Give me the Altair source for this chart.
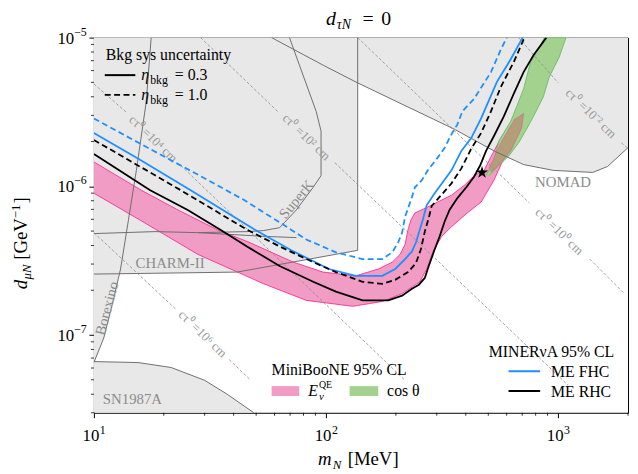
import altair as alt
import pandas as pd

# ---------------- values ----------------
# masses m_N in MeV, couplings d_muN in GeV^-1

# grey excluded regions (boundaries)
charm_low_m = [10, 20.9, 41.4, 136.9]
charm_low_d = [2.57e-7, 2.61e-7, 2.65e-7, 3.71e-7]
charm_up_m = [28.0, 55.5, 74.5]
charm_up_d = [4.88e-7, 4.60e-7, 4.52e-7]
nomad_m = [58.3, 97.1, 136.9, 219, 357.5, 529, 710, 952, 1409, 1633, 2000]
nomad_d = [1e-5, 6.53e-6, 4.96e-6, 3.49e-6, 2.42e-6, 1.73e-6, 1.40e-6, 1.28e-6, 1.24e-6, 1.36e-6, 1.82e-6]
borex_m = [17.65, 16.81, 15.24, 14.09, 13.03, 12.17, 11.03, 10]
borex_d = [1e-5, 3.71e-6, 1.28e-6, 5.95e-7, 2.78e-7, 1.76e-7, 9.55e-8, 6.53e-8]
sn_m = [10, 15.5, 21.5, 30.0, 37.5, 48.9]
sn_d = [6.63e-8, 6.53e-8, 6.05e-8, 4.96e-8, 4.0e-8, 3.0e-8]
superk_m = [69.6, 76.8, 90.7, 95.2, 95.2, 88.05, 74.5, 63.1, 53.9, 45.7, 28.0, 18.35, 10]
superk_d = [1e-5, 6.53e-6, 3.19e-6, 2.35e-6, 1.18e-6, 9.85e-7, 6.94e-7, 5.27e-7, 5.04e-7, 4.96e-7, 4.88e-7, 4.96e-7, 4.81e-7]
vert_m = [136.9, 136.9]
vert_d = [3.71e-7, 1e-5]

grey_label_text = ["SuperK", "CHARM-II", "Borexino", "SN1987A", "NOMAD"]
grey_label_m = [74.5, 21.3, 11.36, 14.66, 1050]
grey_label_d = [8.2e-7, 3.04e-7, 1.51e-7, 3.71e-8, 1.063e-6]
grey_label_angle = [310, 0, 285, 0, 0]

# constant c*tau0 lines (two pieces each, gap for the label)
ct_seg_m = [[10, 13.82], [23.69, 219], [28.82, 61.9], [109.2, 1103], [136.9, 752.5],
            [1368, 1928], [675.8, 1000], [1872, 2000], [10, 22.55], [38.3, 47.0]]
ct_seg_d = [[4.88e-6, 3.14e-6], [1.38e-6, 4.96e-8], [1e-5, 3.19e-6], [1.44e-6, 4.60e-8],
            [1e-5, 7.72e-7], [3.24e-7, 1.90e-7], [1e-5, 4.96e-6], [1.96e-6, 1.8e-6],
            [4.88e-7, 1.49e-7], [6.83e-8, 5.03e-8]]
ct_text = ["cτ⁰ =10⁶ cm", "cτ⁰ =10⁴ cm", "cτ⁰ =10² cm", "cτ⁰ =10⁰ cm", "cτ⁰ =10⁻² cm"]
ct_lab_m = [29.4, 18.0, 82.2, 1010, 1382]
ct_lab_d = [1.015e-7, 2.08e-6, 2.14e-6, 4.96e-7, 3.09e-6]

# MiniBooNE E_nu^QE band (closed outline)
pink_m = [10, 16.0, 23.0, 34.0, 45.7, 72.4, 97.1, 134.2, 168.1, 192.8, 208.5, 219, 225.5, 232.3,
          241.5, 274.3, 347.1, 394.2, 434.9, 479.6, 503.6, 566.6, 643.4, 709.8, 696, 624.7,
          572.2, 529, 465.7, 406, 347.1, 314.7, 288.2, 271.6, 253.7, 212.7, 174.8, 130.3,
          82.2, 53.9, 28.0, 16.0, 10]
pink_d = [1.46e-6, 9.41e-7, 6.94e-7, 5.11e-7, 4.26e-7, 3.09e-7, 2.65e-7, 2.50e-7, 2.78e-7,
          3.09e-7, 3.49e-7, 4.07e-7, 5.11e-7, 5.95e-7, 6.62e-7, 7.26e-7, 8.72e-7, 1.015e-6,
          1.18e-6, 1.28e-6, 1.49e-6, 2.11e-6, 2.86e-6, 3.09e-6, 2.46e-6, 1.73e-6, 1.44e-6,
          1.10e-6, 7.83e-7, 6.62e-7, 5.35e-7, 4.60e-7, 3.60e-7, 2.78e-7, 2.28e-7, 1.90e-7,
          1.68e-7, 1.56e-7, 1.71e-7, 2.21e-7, 3.49e-7, 5.86e-7, 8.99e-7]
# MiniBooNE cos(theta) band (closed outline)
green_m = [489.2, 529, 555.4, 624.7, 662.6, 709.8, 760.2, 838.5, 871.9, 1081.5, 1010, 915.6,
           863.5, 782.9, 730.9, 675.8, 612.7, 555.4, 503.6]
green_d = [1.18e-6, 1.49e-6, 2.02e-6, 2.74e-6, 3.44e-6, 4.52e-6, 6.83e-6, 8.85e-6, 1e-5, 1e-5,
           7.37e-6, 5.43e-6, 4.00e-6, 2.95e-6, 2.42e-6, 1.96e-6, 1.60e-6, 1.38e-6, 1.18e-6]
# part of the E_nu^QE band lying inside the cos(theta) band
overlap_m = [503.6, 572.2, 649.8, 709.8, 696, 624.7, 566.6, 513.5]
overlap_d = [1.32e-6, 2.02e-6, 2.82e-6, 3.09e-6, 2.46e-6, 1.73e-6, 1.44e-6, 1.24e-6]

# MINERvA 95% CL curves
fhc10_m = [10, 17.14, 28.0, 44.4, 67.6, 82.2, 110.3, 143.7, 174.8, 192.8, 204.5, 212.7, 219,
           234.5, 241.5, 258.7, 274.3, 302.7, 324.1, 347.1, 368.1, 386.6, 434.9, 513.5, 566.6, 600.8]
fhc10_d = [2.86e-6, 1.81e-6, 1.20e-6, 8.08e-7, 5.35e-7, 4.39e-7, 3.60e-7, 3.24e-7, 3.24e-7,
           3.60e-7, 4.19e-7, 4.88e-7, 6.23e-7, 8.46e-7, 9.85e-7, 1.10e-6, 1.28e-6, 1.56e-6,
           1.81e-6, 2.24e-6, 2.61e-6, 3.19e-6, 3.89e-6, 5.86e-6, 8.33e-6, 1e-5]
fhc03_m = [10, 15.54, 26.12, 49.4, 72.4, 103.0, 134.2, 174.8, 198.6, 219, 234.5, 243.9, 261.2,
           271.6, 293.9, 347.1, 382.8, 422.2, 465.7, 544.8, 624.7, 703]
fhc03_d = [2.28e-6, 1.53e-6, 9.41e-7, 5.11e-7, 3.65e-7, 2.78e-7, 2.50e-7, 2.50e-7, 2.78e-7,
           3.24e-7, 3.65e-7, 4.19e-7, 5.95e-7, 7.48e-7, 8.99e-7, 1.28e-6, 1.73e-6, 2.11e-6,
           2.86e-6, 5.04e-6, 7.15e-6, 1e-5]
rhc10_m = [10, 23.69, 45.66, 63.1, 88.05, 110.3, 143.7, 174.8, 198.6, 225.5, 243.9, 256.2, 266.4,
           277.1, 285.3, 302.7, 347.1, 382.8, 422.2, 465.7, 513.5, 566.6, 643.4, 709.8, 723.8]
rhc10_d = [2.05e-6, 9.41e-7, 5.11e-7, 3.94e-7, 3.09e-7, 2.65e-7, 2.28e-7, 2.21e-7, 2.35e-7,
           2.65e-7, 3.04e-7, 3.77e-7, 4.96e-7, 6.14e-7, 7.37e-7, 8.20e-7, 1.047e-6, 1.32e-6,
           1.79e-6, 2.28e-6, 3.19e-6, 4.67e-6, 6.83e-6, 9.70e-6, 1e-5]
rhc03_m = [10, 17.48, 25.37, 35.05, 45.66, 63.1, 88.05, 110.3, 143.7, 185.4, 212.7, 234.5, 251.2,
           266.4, 277.1, 293.9, 308.5, 324.1, 340.4, 368.1, 402.1, 434.9, 461.1, 489.2, 529,
           583.4, 643.4, 709.8, 782.9, 889.2]
rhc03_d = [1.65e-6, 9.41e-7, 6.94e-7, 5.11e-7, 3.94e-7, 2.91e-7, 2.28e-7, 1.96e-7, 1.71e-7,
           1.71e-7, 1.84e-7, 2.05e-7, 2.18e-7, 2.42e-7, 2.91e-7, 3.77e-7, 4.60e-7, 5.78e-7,
           6.94e-7, 8.33e-7, 9.85e-7, 1.165e-6, 1.38e-6, 1.73e-6, 2.18e-6, 2.95e-6, 4.19e-6,
           5.86e-6, 7.60e-6, 1e-5]
star_m = [470]
star_d = [1.24e-6]

# axis ticks and labels
major_x = [10, 100, 1000]
major_x_exp = ["1", "2", "3"]
major_y = [1e-7, 1e-6, 1e-5]
major_y_exp = ["−7", "−6", "−5"]
minor_x = [20, 30, 40, 50, 60, 70, 80, 90, 200, 300, 400, 500, 600, 700, 800, 900, 2000]
minor_y = [3e-8, 4e-8, 5e-8, 6e-8, 7e-8, 8e-8, 9e-8,
           2e-7, 3e-7, 4e-7, 5e-7, 6e-7, 7e-7, 8e-7, 9e-7,
           2e-6, 3e-6, 4e-6, 5e-6, 6e-6, 7e-6, 8e-6, 9e-6]

# ---------------- styling ----------------
FONT = "Liberation Serif"
GREYFILL = "#e8e8e8"
GREYLINE = "#6e6e6e"
PINK = "#f09cc4"
PINK_EDGE = "#ff1a8c"
GREEN = "#a3d28f"
GREEN_EDGE = "#5cb85c"
OVERLAP = "#b49e78"
BLUE = "#1e8fff"
W, H = 541, 380

xs = alt.Scale(type="log", domain=[10, 2000], nice=False)
ys = alt.Scale(type="log", domain=[3e-8, 1e-5], nice=False)
ONE = pd.DataFrame({"a": [0]})

XAXIS = alt.Axis(values=major_x, title=None, grid=False, domain=False, labels=False,
                 tickColor="black", tickSize=5, tickWidth=1)
YAXIS = alt.Axis(values=major_y, title=None, grid=False, domain=False, labels=False,
                 tickColor="black", tickSize=5, tickWidth=1)


def X(field="m"):
    return alt.X(f"{field}:Q", scale=xs, axis=XAXIS)


def Y(field="d"):
    return alt.Y(f"{field}:Q", scale=ys, axis=YAXIS)


def path_df(m, d, seg="a"):
    return pd.DataFrame({"m": m, "d": d, "i": list(range(len(m))), "seg": seg})


def xy(chart):
    return chart.encode(x=X(), y=Y(), order=alt.Order("i:Q"), detail="seg:N")


def polygon(m, d, fill, stroke=None, sw=0.0):
    return xy(alt.Chart(path_df(m, d)).mark_line(
        fill=fill, stroke=stroke if stroke else fill, strokeWidth=sw, clip=True))


def curve(m, d, color, width=1.8, dash=None):
    props = dict(color=color, strokeWidth=width, clip=True)
    if dash:
        props["strokeDash"] = dash
    return xy(alt.Chart(path_df(m, d)).mark_line(**props))


def ptext(s, x, y, size=16, style="normal", color="black", align="left", angle=0):
    props = dict(text=s, font=FONT, fontSize=size, fontStyle=style, color=color,
                 align=align, baseline="alphabetic")
    if angle:
        props["angle"] = angle
    return alt.Chart(ONE).mark_text(**props).encode(x=alt.value(x), y=alt.value(y))


def pline(x1, x2, y, color, dash=None, width=2):
    props = dict(color=color, strokeWidth=width)
    if dash:
        props["strokeDash"] = dash
    return alt.Chart(ONE).mark_rule(**props).encode(
        x=alt.value(x1), x2=alt.value(x2), y=alt.value(y))


def prect(x1, x2, y1, y2, color):
    return alt.Chart(ONE).mark_rect(color=color).encode(
        x=alt.value(x1), x2=alt.value(x2), y=alt.value(y1), y2=alt.value(y2))


layers = []

# grey filled regions
top_m = charm_low_m + nomad_m[2:] + [2000, 10]
top_d = charm_low_d + nomad_d[2:] + [1e-5, 1e-5]
layers.append(polygon(top_m, top_d, GREYFILL))
layers.append(polygon(borex_m + [10], borex_d + [1e-5], GREYFILL))
layers.append(polygon(sn_m + [10], sn_d + [3e-8], GREYFILL))

# MiniBooNE bands
layers.append(polygon(pink_m, pink_d, PINK, PINK_EDGE, 0.8))
layers.append(polygon(green_m, green_d, GREEN, GREEN_EDGE, 0.8))
layers.append(polygon(overlap_m, overlap_d, OVERLAP, "#d0609a", 0.6))

# grey boundary lines
grey_paths = [(charm_low_m, charm_low_d), (vert_m, vert_d), (nomad_m, nomad_d),
              (borex_m, borex_d), (sn_m, sn_d), (superk_m, superk_d), (charm_up_m, charm_up_d)]
gdf = pd.concat([path_df(m, d, f"g{k}") for k, (m, d) in enumerate(grey_paths)])
layers.append(xy(alt.Chart(gdf).mark_line(color=GREYLINE, strokeWidth=1, clip=True)))

# c tau lines and labels
cdf = pd.concat([path_df(m, d, f"c{k}") for k, (m, d) in enumerate(zip(ct_seg_m, ct_seg_d))])
layers.append(xy(alt.Chart(cdf).mark_line(color="#8c8c8c", strokeWidth=0.8,
                                          strokeDash=[3, 2], clip=True)))
layers.append(alt.Chart(pd.DataFrame({"m": ct_lab_m, "d": ct_lab_d, "t": ct_text})).mark_text(
    font=FONT, fontSize=13, color="#999999", angle=44).encode(x=X(), y=Y(), text="t:N"))

# grey region labels
for t, m, d, a in zip(grey_label_text, grey_label_m, grey_label_d, grey_label_angle):
    props = dict(text=t, font=FONT, fontSize=15, color="#8c8c8c")
    if a:
        props["angle"] = a
    layers.append(alt.Chart(pd.DataFrame({"m": [m], "d": [d]})).mark_text(**props).encode(
        x=X(), y=Y()))

# MINERvA curves
layers.append(curve(fhc10_m, fhc10_d, BLUE, dash=[6, 3.5]))
layers.append(curve(fhc03_m, fhc03_d, BLUE))
layers.append(curve(rhc10_m, rhc10_d, "black", dash=[6, 3.5]))
layers.append(curve(rhc03_m, rhc03_d, "black"))

STAR = ("M0,-1L0.2245,-0.309L0.951,-0.309L0.363,0.118L0.588,0.809L0,0.382"
        "L-0.588,0.809L-0.363,0.118L-0.951,-0.309L-0.2245,-0.309Z")
layers.append(alt.Chart(pd.DataFrame({"m": star_m, "d": star_d})).mark_point(
    shape=STAR, filled=True, color="black", size=170, opacity=1).encode(x=X(), y=Y()))

# minor ticks
layers.append(alt.Chart(pd.DataFrame({"v": minor_x})).mark_rule(color="black", strokeWidth=0.8).encode(
    x=X("v"), y=alt.value(H), y2=alt.value(H + 3)))
layers.append(alt.Chart(pd.DataFrame({"v": minor_y})).mark_rule(color="black", strokeWidth=0.8).encode(
    y=Y("v"), x=alt.value(0), x2=alt.value(-3)))

# tick labels of the form 10^k
xl = pd.DataFrame({"m": major_x, "e": major_x_exp, "b": ["10"] * 3})
layers.append(alt.Chart(xl).mark_text(font=FONT, fontSize=17, color="black", align="center",
                                      baseline="alphabetic", dx=-3).encode(
    x=X(), y=alt.value(H + 29), text="b:N"))
layers.append(alt.Chart(xl).mark_text(font=FONT, fontSize=12, color="black", align="left",
                                      baseline="alphabetic", dx=6).encode(
    x=X(), y=alt.value(H + 21), text="e:N"))
yl = pd.DataFrame({"d": major_y, "e": major_y_exp, "b": ["10"] * 3})
layers.append(alt.Chart(yl).mark_text(font=FONT, fontSize=17, color="black", align="right",
                                      baseline="alphabetic", dy=6).encode(
    y=Y(), x=alt.value(-20), text="b:N"))
layers.append(alt.Chart(yl).mark_text(font=FONT, fontSize=12, color="black", align="left",
                                      baseline="alphabetic", dy=-2).encode(
    y=Y(), x=alt.value(-20), text="e:N"))

# legend: background systematics
layers += [
    ptext("Bkg sys uncertainty", 12, 23),
    pline(11, 42, 38, "black"),
    ptext("η", 48, 43, style="italic"),
    ptext("bkg", 57, 47, size=12),
    ptext("= 0.3", 82, 43),
    pline(11, 42, 58, "black", dash=[6, 3.5]),
    ptext("η", 48, 63, style="italic"),
    ptext("bkg", 57, 67, size=12),
    ptext("= 1.0", 82, 63),
]
# legend: MiniBooNE
layers += [
    ptext("MiniBooNE 95% CL", 180, 342),
    prect(180, 208, 353, 363, PINK),
    ptext("E", 217, 363, style="italic"),
    ptext("ν", 228, 367, size=11, style="italic"),
    ptext("QE", 228, 355, size=10),
    prect(259, 288, 353, 363, GREEN),
    ptext("cos θ", 297, 363),
]
# legend: MINERvA
layers += [
    ptext("MINERνA 95% CL", 527, 323, align="right"),
    pline(420, 452, 338, BLUE),
    ptext("ME FHC", 463, 344),
    pline(420, 452, 358, "black"),
    ptext("ME RHC", 463, 364),
]
# title and axis titles
layers += [
    ptext("d", 235, -13, size=20, style="italic"),
    ptext("τN", 246, -9, size=14, style="italic"),
    ptext("=", 272, -13, size=20),
    ptext("0", 291, -13, size=20),
    ptext("m", 227, 433, size=19, style="italic"),
    ptext("N", 242, 437, size=13, style="italic"),
    ptext("[MeV]", 257, 433, size=19),
    ptext("d", -68, 255, size=19, style="italic", angle=270),
    ptext("μN", -64, 245, size=13, style="italic", angle=270),
    ptext("[GeV", -68, 225, size=19, angle=270),
    ptext("−1", -75, 183, size=13, angle=270),
    ptext("]", -68, 168, size=19, angle=270),
]

chart = alt.layer(*layers).properties(
    width=W, height=H,
    padding={"left": 87, "top": 27, "right": 2, "bottom": 58},
    autosize=alt.AutoSizeParams(type="none"),
).configure_view(stroke="black", strokeWidth=1)

chart.save("out.html", embed_options={"renderer": "svg", "actions": False})
